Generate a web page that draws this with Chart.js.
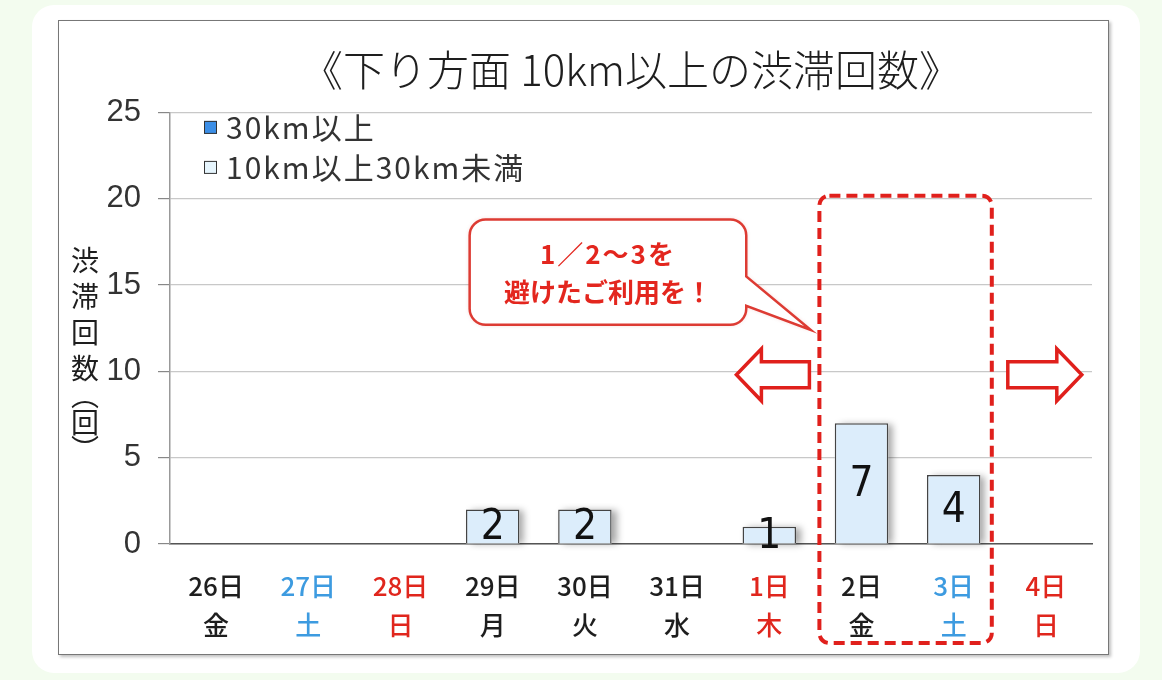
<!DOCTYPE html>
<html lang="ja">
<head>
<meta charset="utf-8">
<title>下り方面 10km以上の渋滞回数</title>
<script src="https://cdn.jsdelivr.net/npm/chart.js@4.4.1/dist/chart.umd.min.js"></script>
<style>
  html, body { margin: 0; padding: 0; }
  body { width: 1162px; height: 680px; background: #f3fcef; position: relative; overflow: hidden; }
  #card { position: absolute; left: 32px; top: 5px; width: 1108px; height: 668px; background: #fff; border-radius: 22px; }
  #frame { position: absolute; left: 58px; top: 20px; width: 1049px; height: 633px; border: 1.5px solid #777; box-shadow: 2px 2px 3px rgba(0,0,0,0.25); background: #fff; }
  #chart { position: absolute; left: 0; top: 0; }
</style>
</head>
<body>
<div id="card"></div>
<div id="frame"></div>
<canvas id="chart" width="1162" height="680"></canvas>
<script>
// data
const days      = ['26日', '27日', '28日', '29日', '30日', '31日', '1日', '2日', '3日', '4日'];
const weekdays  = ['金', '土', '日', '月', '火', '水', '木', '金', '土', '日'];
const dayKinds  = ['weekday', 'sat', 'sun', 'weekday', 'weekday', 'weekday', 'holiday', 'weekday', 'sat', 'sun'];
const over30km  = [0, 0, 0, 0, 0, 0, 0, 0, 0, 0];
const from10to30km = [0, 0, 0, 2, 2, 0, 1, 7, 4, 0];
const yMin = 0, yMax = 25, yStep = 5;

const seriesNames = ['30km以上', '10km以上30km未満'];
const titleText   = '《下り方面 10km以上の渋滞回数》';
const yTitleChars = ['渋', '滞', '回', '数', '︵', '回', '︶'];
const calloutLines = ['1／2～3を', '避けたご利用を！'];

const kindColors = { weekday: '#1e1e1e', sat: '#3d9be0', sun: '#e0261d', holiday: '#e0261d' };
const RED = '#e0201c';
const JP = '"Noto Sans CJK JP", "Noto Sans", sans-serif';

// bar shadows (drawn under the bars) + value labels
const barDecor = {
  id: 'barDecor',
  beforeDatasetsDraw(chart) {
    const ctx = chart.ctx;
    ctx.save();
    ctx.shadowColor = 'rgba(0,0,0,0.35)';
    ctx.shadowBlur = 7;
    ctx.shadowOffsetX = 5;
    ctx.shadowOffsetY = 1;
    ctx.fillStyle = '#fff';
    chart.getDatasetMeta(1).data.forEach((bar, i) => {
      if (!chart.data.datasets[1].data[i]) return;
      const p = bar.getProps(['x', 'y', 'base', 'width'], true);
      ctx.fillRect(p.x - p.width / 2, p.y, p.width, p.base - p.y);
    });
    ctx.restore();
  },
  afterDatasetsDraw(chart) {
    const ctx = chart.ctx;
    const meta = chart.getDatasetMeta(1);
    ctx.save();
    ctx.font = '42px "Liberation Sans Narrow", "DejaVu Sans Condensed", sans-serif';
    ctx.fillStyle = '#111';
    ctx.textAlign = 'center';
    ctx.textBaseline = 'middle';
    meta.data.forEach((bar, i) => {
      const v = chart.data.datasets[1].data[i];
      if (!v) return;
      const p = bar.getProps(['x', 'y', 'base'], true);
      ctx.fillText(String(v), p.x, (p.y + p.base) / 2 + 2);
    });
    ctx.restore();
  }
};

function roundRectPath(ctx, x, y, w, h, r) {
  ctx.beginPath();
  ctx.moveTo(x + r, y);
  ctx.lineTo(x + w - r, y);
  ctx.arcTo(x + w, y, x + w, y + r, r);
  ctx.lineTo(x + w, y + h - r);
  ctx.arcTo(x + w, y + h, x + w - r, y + h, r);
  ctx.lineTo(x + r, y + h);
  ctx.arcTo(x, y + h, x, y + h - r, r);
  ctx.lineTo(x, y + r);
  ctx.arcTo(x, y, x + r, y, r);
  ctx.closePath();
}

function arrowPath(ctx, tail, tip, cy, shaft, head, headLen) {
  const dir = tip > tail ? 1 : -1;
  const hb = tip - dir * headLen;
  ctx.beginPath();
  ctx.moveTo(tail, cy - shaft);
  ctx.lineTo(hb, cy - shaft);
  ctx.lineTo(hb, cy - head);
  ctx.lineTo(tip, cy);
  ctx.lineTo(hb, cy + head);
  ctx.lineTo(hb, cy + shaft);
  ctx.lineTo(tail, cy + shaft);
  ctx.closePath();
}

// legend, vertical y title, dashed box, callout and arrows
const overlay = {
  id: 'overlay',
  afterDraw(chart) {
    const ctx = chart.ctx;
    const area = chart.chartArea;
    const x = chart.scales.x, y = chart.scales.y;

    // legend inside plot area
    ctx.save();
    ctx.font = '30px ' + JP;
    ctx.letterSpacing = '2px';
    ctx.textBaseline = 'middle';
    chart.data.datasets.forEach((ds, i) => {
      const ly = area.top + 15 + i * 40;
      const lx = area.left + 34;
      ctx.fillStyle = ds.legendColor;
      ctx.fillRect(lx, ly - 6.5, 13, 13);
      ctx.strokeStyle = '#333';
      ctx.lineWidth = 1;
      ctx.strokeRect(lx + 0.5, ly - 6, 12, 12);
      ctx.fillStyle = '#333';
      ctx.fillText(ds.label, lx + 22, ly);
    });
    ctx.restore();

    // y axis title, written vertically
    ctx.save();
    ctx.font = '28px ' + JP;
    ctx.fillStyle = '#1e1e1e';
    ctx.textAlign = 'center';
    ctx.textBaseline = 'middle';
    let cy = 242;
    const tx = area.left - 85;
    yTitleChars.forEach(ch => {
      const paren = ch === '︵' || ch === '︶';
      const h = paren ? 18 : 36;
      ctx.fillText(ch, tx, cy + h / 2);
      cy += h;
    });
    ctx.restore();

    // dashed box around 2日-3日
    const bl = x.getPixelForValue(6.5) + 4;
    const br = x.getPixelForValue(8.5) - 8;
    const bt = y.getPixelForValue(20) - 3;
    const bb = area.bottom + 99;
    ctx.save();
    ctx.strokeStyle = RED;
    ctx.lineWidth = 4;
    ctx.setLineDash([11, 6]);
    roundRectPath(ctx, bl, bt, br - bl, bb - bt, 10);
    ctx.stroke();
    ctx.restore();

    // arrows
    const ay = y.getPixelForValue(9.8);
    ctx.save();
    ctx.strokeStyle = RED;
    ctx.fillStyle = '#fff';
    ctx.lineWidth = 3.5;
    arrowPath(ctx, bl - 10, bl - 83, ay, 13, 26, 25);
    ctx.fill(); ctx.stroke();
    arrowPath(ctx, br + 16, br + 90, ay, 13, 26, 25);
    ctx.fill(); ctx.stroke();
    ctx.restore();

    // callout
    const cl = x.getPixelForValue(2.75), cr = x.getPixelForValue(5.75);
    const ct = y.getPixelForValue(18.8), cb = y.getPixelForValue(12.7);
    const r = 16;
    const j1 = y.getPixelForValue(15.5), j2 = y.getPixelForValue(13.8);
    const tipX = x.getPixelForValue(6.45), tipY = y.getPixelForValue(12.4);
    ctx.save();
    ctx.beginPath();
    ctx.moveTo(cl + r, ct);
    ctx.lineTo(cr - r, ct);
    ctx.arcTo(cr, ct, cr, ct + r, r);
    ctx.lineTo(cr, j1);
    ctx.lineTo(tipX, tipY);
    ctx.lineTo(cr, j2);
    ctx.lineTo(cr, cb - r);
    ctx.arcTo(cr, cb, cr - r, cb, r);
    ctx.lineTo(cl + r, cb);
    ctx.arcTo(cl, cb, cl, cb - r, r);
    ctx.lineTo(cl, ct + r);
    ctx.arcTo(cl, ct, cl + r, ct, r);
    ctx.closePath();
    ctx.shadowColor = 'rgba(200,40,30,0.25)';
    ctx.shadowBlur = 4;
    ctx.fillStyle = '#fff';
    ctx.fill();
    ctx.shadowColor = 'transparent';
    ctx.strokeStyle = '#dd3b33';
    ctx.lineWidth = 2.5;
    ctx.stroke();
    ctx.font = 'bold 26px ' + JP;
    ctx.fillStyle = '#e3261e';
    ctx.textAlign = 'center';
    ctx.textBaseline = 'middle';
    const mx = (cl + cr) / 2;
    ctx.letterSpacing = '2px';
    ctx.fillText(calloutLines[0], mx, ct + 35);
    ctx.letterSpacing = '0px';
    ctx.fillText(calloutLines[1], mx, ct + 73);
    ctx.restore();
  }
};

const ctx = document.getElementById('chart').getContext('2d');
const chart = new Chart(ctx, {
  type: 'bar',
  data: {
    labels: days.map((d, i) => [d, weekdays[i]]),
    datasets: [
      {
        label: seriesNames[0],
        data: over30km,
        backgroundColor: '#3b8ee6',
        borderColor: '#333',
        borderWidth: 1.5,
        legendColor: '#3b8ee6'
      },
      {
        label: seriesNames[1],
        data: from10to30km,
        backgroundColor: '#dcedfb',
        borderColor: '#444',
        borderWidth: 1.5,
        legendColor: '#e6f5fd'
      }
    ]
  },
  options: {
    responsive: false,
    animation: false,
    barPercentage: 0.58,
    categoryPercentage: 1,
    layout: { padding: { left: 58, right: 70, top: 20, bottom: 26 } },
    plugins: {
      legend: { display: false },
      tooltip: { enabled: false },
      title: {
        display: true,
        text: titleText,
        fullSize: false,
        color: '#1e1e1e',
        font: { family: JP, size: 42, weight: 300, lineHeight: 1.2 },
        padding: { top: 25, bottom: 17 }
      }
    },
    scales: {
      x: {
        stacked: true,
        grid: { display: false },
        border: { display: true, color: '#555', width: 1.5 },
        ticks: {
          autoSkip: false,
          maxRotation: 0,
          padding: 15,
          color: (c) => kindColors[dayKinds[c.index]],
          font: { family: JP, size: 26, weight: 500, lineHeight: 1.48 }
        },
        afterFit(scale) { scale.height = 110; }
      },
      y: {
        stacked: true,
        min: yMin,
        max: yMax,
        grid: { color: '#c8c8c8', lineWidth: 1.2, tickLength: 12, tickColor: '#888' },
        border: { display: true, color: '#999', width: 1.5 },
        ticks: {
          stepSize: yStep,
          padding: 17,
          color: '#333',
          font: { family: '"Liberation Sans", Arial, sans-serif', size: 31 }
        },
        afterFit(scale) { scale.width = 112; }
      }
    }
  },
  plugins: [barDecor, overlay]
});
</script>
</body>
</html>
